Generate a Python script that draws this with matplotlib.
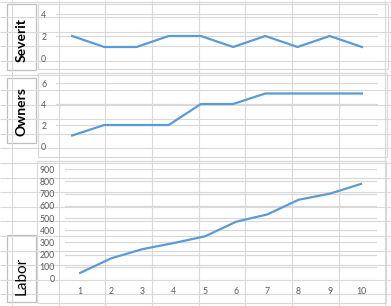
import numpy as np
import matplotlib
matplotlib.use("Agg")
import matplotlib.pyplot as plt
from matplotlib.patches import Rectangle

plt.rcParams['font.family'] = ['Lato', 'DejaVu Sans']

# data
x = [1, 2, 3, 4, 5, 6, 7, 8, 9, 10]
severity = [2, 1, 1, 2, 2, 1, 2, 1, 2, 1]
owners = [1, 2, 2, 2, 4, 4, 5, 5, 5, 5]
labor = [50, 170, 245, 295, 350, 470, 530, 650, 700, 780]
labels = ["Severit", "Owners", "Labor"]

W, H = 391, 306
fig = plt.figure(figsize=(W / 100, H / 100), dpi=100)

def px_axes(x0, y0, x1, y1, **kw):
    # pixel box (top-left origin) -> figure axes
    return fig.add_axes([x0 / W, 1 - y1 / H, (x1 - x0) / W, (y1 - y0) / H], **kw)

# sheet background with cell grid
bg = px_axes(0, 0, W, H)
bg.set_xlim(0, W)
bg.set_ylim(H, 0)
bg.axis('off')
bg.vlines(12 + 46.65 * np.arange(9), 0, H, color='#d9d9d9', lw=0.8)
bg.hlines(2.4 + 14.6 * np.arange(22), 0, W, color='#d9d9d9', lw=0.8)

# chart areas
panels = [(38, 4, 388, 69), (38, 73, 387, 157), (37, 161, 386, 303)]
for x0, y0, x1, y1 in panels:
    bg.add_patch(Rectangle((x0, y0), x1 - x0, y1 - y0, fc='white', ec='#d9d9d9', lw=0.9))

# label boxes
boxes = [(7, 4, 36, 70), (7, 78, 36, 143), (7, 235, 36, 302)]
text_y = [40, 112, 276]
weights = ['bold', 'bold', 'normal']
sizes = [10, 10, 11]
for (x0, y0, x1, y1), lab, ty, wt, fs in zip(boxes, labels, text_y, weights, sizes):
    bg.add_patch(Rectangle((x0, y0), x1 - x0, y1 - y0, fc='white', ec='#bfbfbf', lw=0.9))
    bg.text((x0 + x1) / 2, ty, lab, rotation=90, ha='center', va='center',
            fontsize=fs, fontweight=wt, color='black')

blue = '#5b9bd5'
tick_col = '#595959'

def style(ax, yticks, show_x):
    ax.set_facecolor('none')
    for s in ax.spines.values():
        s.set_visible(False)
    ax.set_xlim(0.5, 10.5)
    ax.set_yticks(yticks)
    ax.set_ylim(yticks[0], yticks[-1])
    ax.yaxis.grid(True, color='#d9d9d9', lw=0.9)
    ax.set_axisbelow(True)
    ax.tick_params(axis='y', length=0, pad=7, labelsize=6.3, labelcolor=tick_col)
    ax.set_xticks(x)
    if show_x:
        ax.tick_params(axis='x', length=0, pad=6, labelsize=6.3, labelcolor=tick_col)
    else:
        ax.tick_params(axis='x', length=0, labelbottom=False)

ax1 = px_axes(56, 14, 378, 58)
ax1.plot(x, severity, color=blue, lw=1.6, clip_on=False)
style(ax1, [0, 2, 4], False)

ax2 = px_axes(56, 83, 378, 146)
ax2.plot(x, owners, color=blue, lw=1.6, clip_on=False)
style(ax2, [0, 2, 4, 6], False)

ax3 = px_axes(64.5, 169.3, 376.6, 279)
ax3.plot(x, labor, color=blue, lw=1.6, clip_on=False)
style(ax3, list(range(0, 1000, 100)), True)

fig.savefig("out.png", dpi=100)
